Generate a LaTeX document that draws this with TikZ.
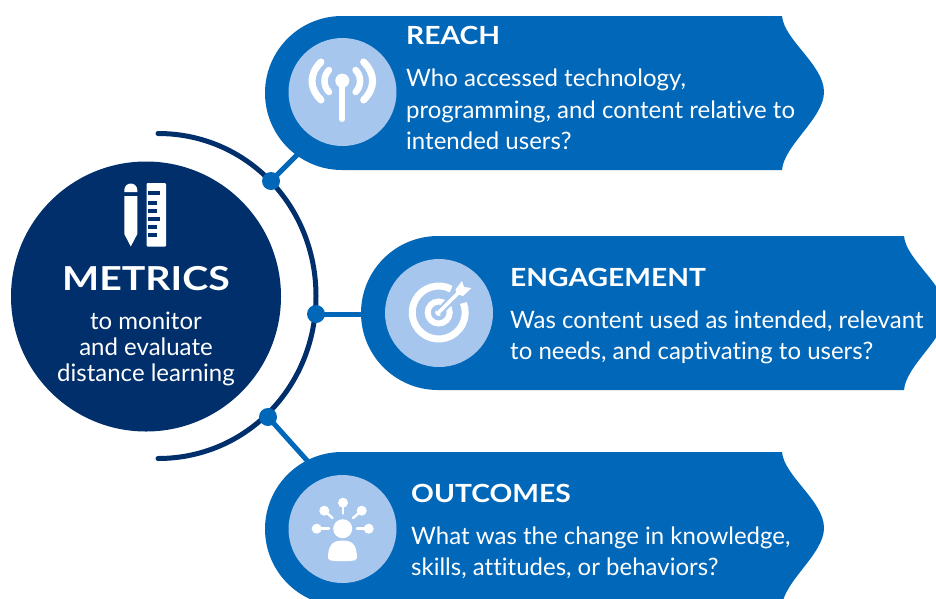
\documentclass[tikz,border=0pt]{standalone}
\usepackage{fontspec}
\setmainfont[Ligatures=CommonOff]{Lato}
\definecolor{navy}{HTML}{002F6C}
\definecolor{midblue}{HTML}{0067B9}
\definecolor{pale}{HTML}{A7C6ED}
\newcommand{\widehead}[1]{\scalebox{1.13}[1]{#1}}
\tikzset{
  x=1pt,y=-1pt,
  banner/.style={fill=midblue,draw=none},
  disc/.style={circle,fill=pale,draw=none,minimum size=108pt,inner sep=0pt},
  hubdot/.style={circle,fill=midblue,draw=none,minimum size=18pt,inner sep=0pt},
  link/.style={draw=midblue,line width=5pt},
  heading/.style={anchor=base west,text=white,inner sep=0pt,font=\fontsize{25}{30}\selectfont\bfseries},
  body/.style={anchor=base west,text=white,inner sep=0pt,font=\fontsize{24}{30}\selectfont},
  centertext/.style={anchor=base,text=white,inner sep=0pt,font=\fontsize{24}{30}\selectfont},
  iconw/.style={draw=white,line cap=round,fill=none},
}
\begin{document}
\begin{tikzpicture}
\useasboundingbox (0,0) rectangle (936,598);
\begin{scope}
\clip (0,0) rectangle (936,598);
% hub circle and arc
\node[circle,fill=navy,draw=none,minimum size=270pt,inner sep=0pt] (hub) at (146,296.5) {};
\draw[navy,line width=5pt,line cap=round] (158,133.5) .. controls (247,133.5) and (316,206) .. (316,296) .. controls (316,386) and (247,458.5) .. (158,458.5);
% dots and coordinates
\coordinate (reachEnd) at (300,152);
\coordinate (engEnd) at (370,314);
\coordinate (outEnd) at (312,466);
\node[hubdot] (dotA) at (271,181) {};
\node[hubdot] (dotB) at (316,314) {};
\node[hubdot] (dotC) at (268,417) {};
\draw[link] (dotA.center) -- (reachEnd);
\draw[link] (dotB.center) -- (engEnd);
\draw[link] (dotC.center) -- (outEnd);
% banners
\path[banner] (782,16) -- (342,16) arc[start angle=270,end angle=90,radius=77] -- (782,170)
  .. controls (784,145) and (824,118) .. (824,92) .. controls (824,65) and (784,40) .. (782,16) -- cycle;
\path[banner] (904,236) -- (438,236) arc[start angle=270,end angle=90,radius=77] -- (904,390)
  .. controls (906,365) and (946,338) .. (946,312) .. controls (946,285) and (906,260) .. (904,236) -- cycle;
\path[banner] (782,452) -- (342,452) arc[start angle=270,end angle=90,radius=77] -- (782,606)
  .. controls (784,581) and (824,554) .. (824,528) .. controls (824,501) and (784,476) .. (782,452) -- cycle;
\end{scope}
% discs
\node[disc] (discA) at (342.5,92) {};
\node[disc] (discB) at (439,313) {};
\node[disc] (discC) at (342.5,529) {};
% metrics icon
\fill[white] (124.3,190) arc[start angle=180,end angle=360,radius=6.5] -- (137.3,192) -- (124.3,192) -- cycle;
\fill[white] (124.3,196) -- (137.3,196) -- (137.3,234) -- (130.8,246.5) -- (124.3,234) -- cycle;
\fill[white,rounded corners=1pt] (146.7,183) rectangle (166,246.5);
\foreach \yy/\xe in {193/159.5,203/157,211/157,219/159.5,227/157,235/157}
  \fill[navy] (147.8,\yy-1.7) rectangle (\xe,\yy+1.7);
% metrics text
\node[anchor=base,text=white,inner sep=0pt,font=\fontsize{33}{40}\selectfont\bfseries] (mtitle) at (146,290) {\scalebox{1.19}[1]{METRICS}};
\node[centertext] (m1) at (146,329) {to monitor};
\node[centertext] (m2) at (146,355) {and evaluate};
\node[centertext] (m3) at (146,381) {distance learning};
% antenna icon
\draw[iconw,line width=6pt] (342.3,82) -- (342.3,119);
\fill[white] (342.3,80.7) circle[radius=7];
\draw[iconw,line width=6.5pt] (329,70) .. controls (323,76) and (323,86) .. (329,92);
\draw[iconw,line width=6.5pt] (355.6,70) .. controls (361.6,76) and (361.6,86) .. (355.6,92);
\draw[iconw,line width=7pt] (321,62) .. controls (309,74) and (309,88) .. (321,100);
\draw[iconw,line width=7pt] (363.6,62) .. controls (375.6,74) and (375.6,88) .. (363.6,100);
% target icon
\coordinate (tc) at (438.7,312.5);
\draw[white,line width=7pt] (tc) ++(-62:26.5) arc[start angle=-62,end angle=-381,radius=26.5];
\draw[white,line width=6pt] (tc) circle[radius=11];
\fill[white] (tc) circle[radius=3.5];
\draw[pale,line width=8pt] (tc) -- (460,291);
\draw[white,line width=3.5pt,line cap=round] (tc) -- (461,290);
\fill[white] (455.5,289.5) -- (462,281) -- (464,287) -- (471.5,288) -- (463,296) -- (456.5,294) -- cycle;
% person icon
\fill[white] (342.7,528.7) circle[radius=9.5];
\fill[white,rounded corners=2pt] (328,560) .. controls (328,548) and (331,540.7) .. (342.7,540.7) .. controls (354,540.7) and (357,548) .. (357,560) .. controls (348,561.5) and (337,561.5) .. (328,560) -- cycle;
\foreach \cx/\cy/\ex/\ey in {316.7/528.7/329/528.7,368.7/528.7/357/528.7,343/502.7/343/513.5,324.3/510.7/332.5/518,361.7/510.7/353/518}{
  \fill[white] (\cx,\cy) circle[radius=5];
  \draw[white,line width=2.5pt,line cap=round] (\cx,\cy) -- (\ex,\ey);
}
% banner text
\node[heading] (t1) at (406,44) {\widehead{REACH}};
\node[body] (t1a) at (406,86) {Who accessed technology,};
\node[body] (t1b) at (406,118) {programming, and content relative to};
\node[body] (t1c) at (406,149) {intended users?};
\node[heading] (t2) at (510,286) {\widehead{ENGAGEMENT}};
\node[body] (t2a) at (510,328) {Was content used as intended, relevant};
\node[body] (t2b) at (510,359) {to needs, and captivating to users?};
\node[heading] (t3) at (411,502) {\widehead{OUTCOMES}};
\node[body] (t3a) at (411,544) {What was the change in knowledge,};
\node[body] (t3b) at (411,575) {skills, attitudes, or behaviors?};
\end{tikzpicture}
\end{document}
